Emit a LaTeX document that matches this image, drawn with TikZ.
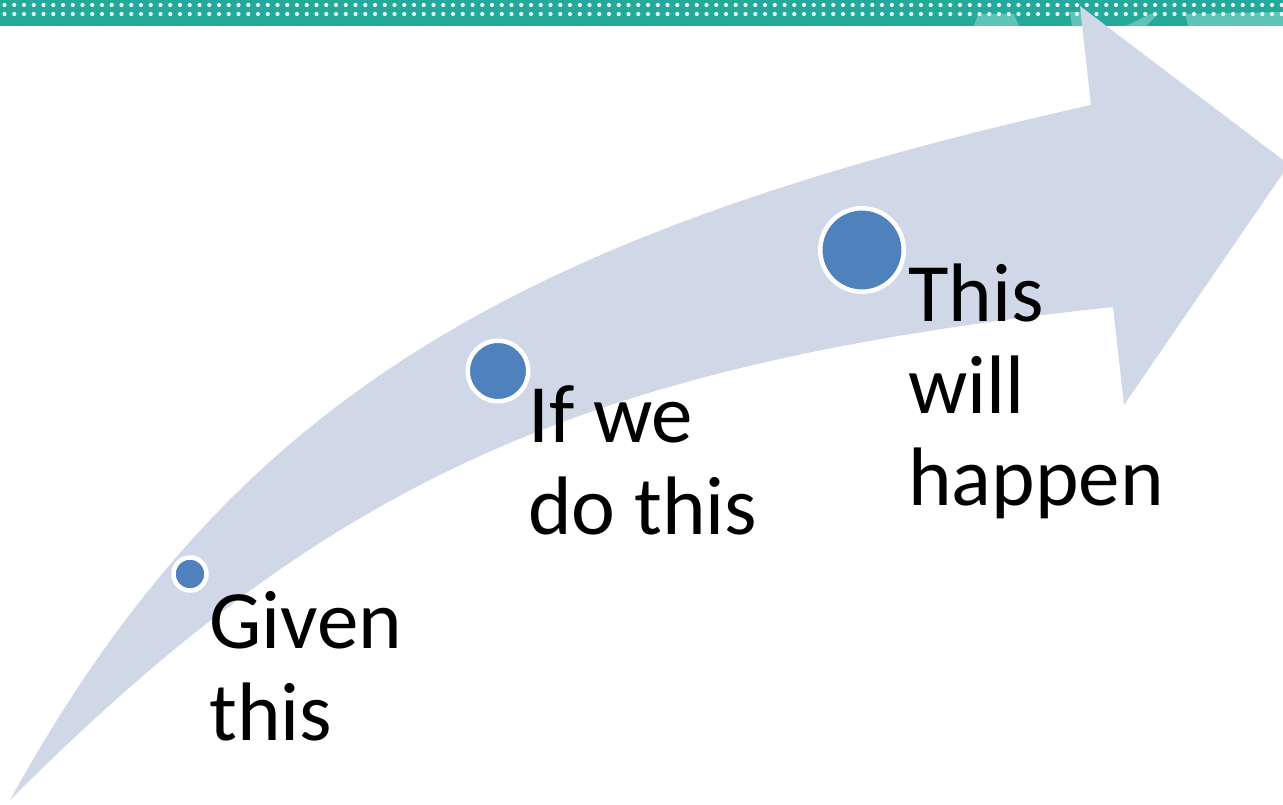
\documentclass[tikz,border=0pt]{standalone}
\usepackage{fontspec}
\setmainfont{Carlito}
\usepackage{tikz}
\usetikzlibrary{positioning,calc}
\definecolor{barteal}{HTML}{24A99B}
\definecolor{barlight}{HTML}{5FC3B7}
\definecolor{arrowfill}{HTML}{D0D8E8}
\definecolor{dotblue}{HTML}{4F81BD}
\tikzset{
  milestone/.style={circle, fill=dotblue, draw=white, line width=4.5pt, inner sep=0pt},
  steptext/.style={anchor=base west, inner sep=0pt, align=left,
    font=\fontsize{83}{92}\selectfont},
}

\begin{document}
\begin{tikzpicture}[x=1pt,y=-1pt]
\useasboundingbox (0,0) rectangle (1283,805);
\clip (0,0) rectangle (1283,805);

\fill[barteal] (0,0) rectangle (1283,26);
\fill[barlight] (978,14) -- (1014,14) -- (1019,26) -- (974,26) -- cycle;
\fill[barlight] (1070,12) -- (1086,12) -- (1090,26) -- (1072,26) -- cycle;
\fill[barlight] (1126,26) -- (1150,14) -- (1158,14) -- (1146,26) -- cycle;
\fill[barlight] (1185,14) -- (1283,12) -- (1283,26) -- (1188,26) -- cycle;
\foreach \i in {0,...,131}
  \foreach \yy in {5,14}
    \fill[white!92!barteal] (4.5+9.75*\i,\yy) circle[radius=2.1pt];

\fill[arrowfill] (10,800) .. controls (225,411.5) and (495.5,238) .. (1091,105)
  -- (1080,6) -- (1289,164.5) -- (1124,405) -- (1113,307)
  .. controls (586.7,363.6) and (333,477) .. (10,800) -- cycle;

\node[milestone, minimum size=33pt] (given) at (190,574) {};
\node[milestone, minimum size=60.5pt] (dothis) at (498,371) {};
\node[milestone, minimum size=83.5pt] (happen) at (862,250) {};

\node[steptext] (giventext) at ($(given)+(19,166)$) {Given\\this};
\node[steptext] (dothistext) at ($(dothis)+(30,163)$) {If we\\do this};
\node[steptext] (happentext) at ($(happen)+(46,255)$) {This\\will\\happen};
\end{tikzpicture}
\end{document}
